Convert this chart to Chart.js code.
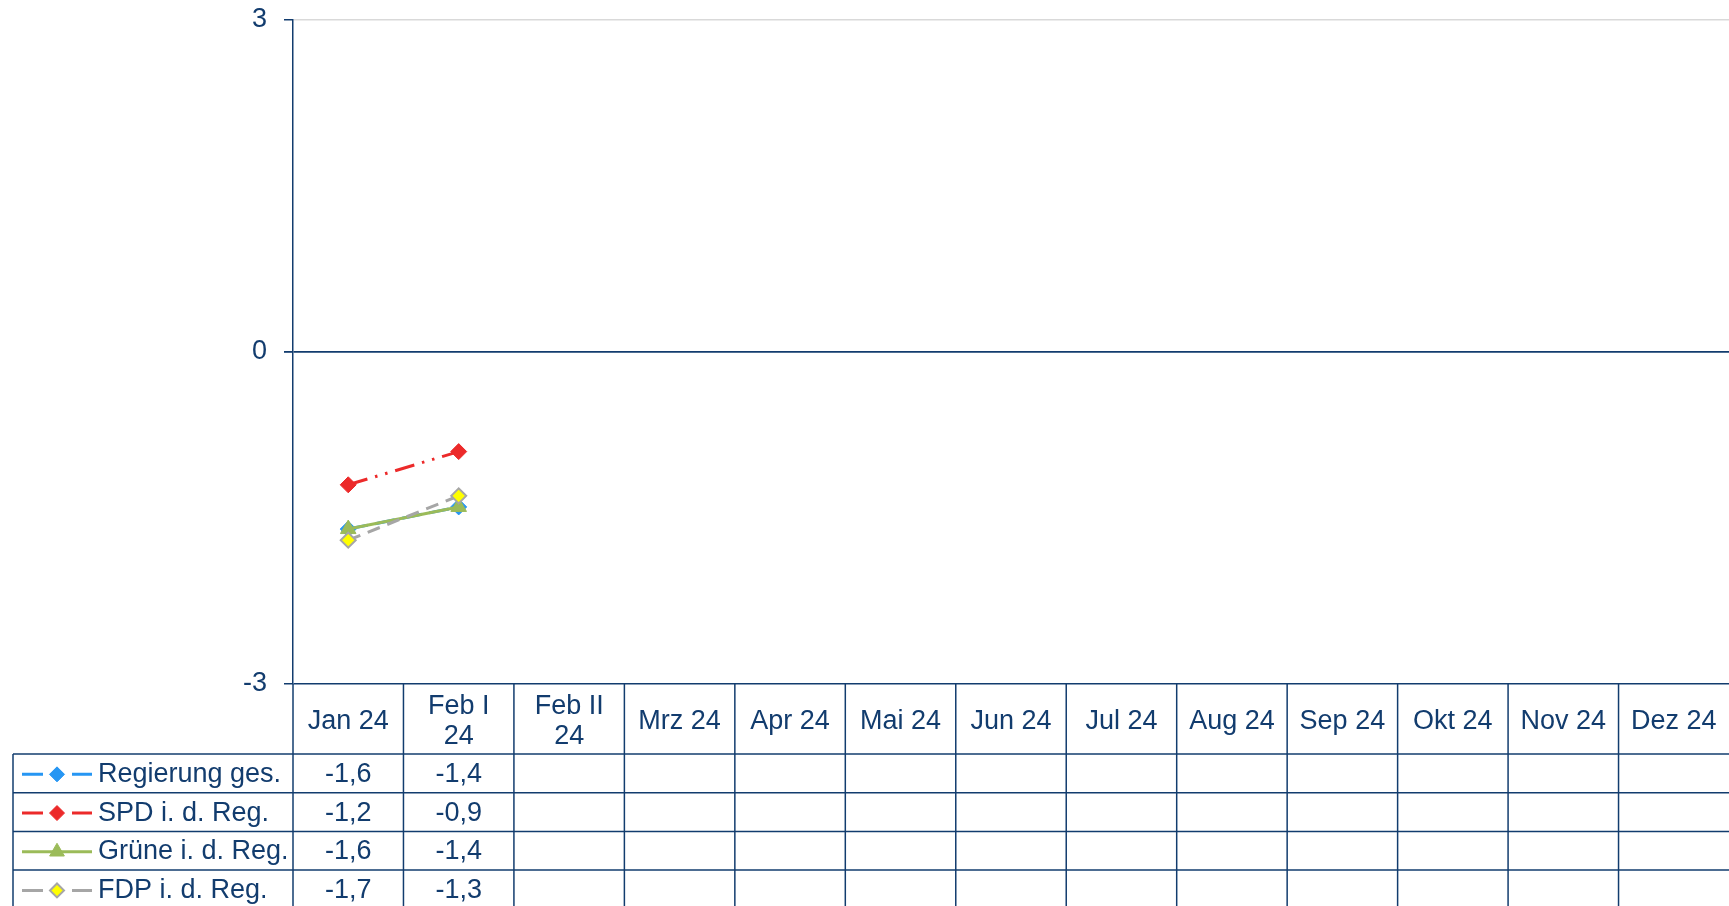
<!DOCTYPE html>
<html><head><meta charset="utf-8">
<script src="https://cdn.jsdelivr.net/npm/chart.js@4/dist/chart.umd.min.js"></script>
<style>html,body{margin:0;padding:0;background:#fff;overflow:hidden}canvas{display:block}</style>
</head><body>
<canvas id="c" width="1729" height="906"></canvas>
<script>
// ---- data ----
const categories = [['Jan 24'], ['Feb I', '24'], ['Feb II', '24'], ['Mrz 24'], ['Apr 24'], ['Mai 24'], ['Jun 24'], ['Jul 24'], ['Aug 24'], ['Sep 24'], ['Okt 24'], ['Nov 24'], ['Dez 24']];
const seriesNames = ['Regierung ges.', 'SPD i. d. Reg.', 'Grüne i. d. Reg.', 'FDP i. d. Reg.'];
const regierung = [-1.6, -1.4, null, null, null, null, null, null, null, null, null, null, null];
const spd = [-1.2, -0.9, null, null, null, null, null, null, null, null, null, null, null];
const gruene = [-1.6, -1.4, null, null, null, null, null, null, null, null, null, null, null];
const fdp = [-1.7, -1.3, null, null, null, null, null, null, null, null, null, null, null];
const yTicks = [-3, 0, 3];

// ---- styles ----
const INK = '#123C6E';
const FONT = '"Liberation Sans", Arial, sans-serif';
Chart.defaults.font.family = FONT;
Chart.defaults.color = INK;

const datasets = [
  { label: seriesNames[0], data: regierung, borderColor: '#2696F3', backgroundColor: '#2696F3', borderWidth: 3, borderDash: [20, 7.5], pointStyle: 'rectRot', pointRadius: 8, pointBorderWidth: 1, pointBorderColor: '#2696F3', order: 4, dashed: true },
  { label: seriesNames[1], data: spd, borderColor: '#EC2A2A', backgroundColor: '#EC2A2A', borderWidth: 3, borderDash: [20, 8, 2.5, 8, 2.5, 8], pointStyle: 'rectRot', pointRadius: 8, pointBorderWidth: 1, pointBorderColor: '#EC2A2A', order: 3, dashed: true },
  { label: seriesNames[2], data: gruene, borderColor: '#9BBB59', backgroundColor: '#9BBB59', borderWidth: 3, borderDash: [], pointStyle: 'triangle', pointRadius: 9, pointBorderWidth: 1, pointBorderColor: '#9BBB59', order: 2, dashed: false },
  { label: seriesNames[3], data: fdp, borderColor: '#A6A6A6', backgroundColor: '#FFFF00', borderWidth: 3, borderDash: [13, 8], pointStyle: 'rectRot', pointRadius: 7.5, pointBorderWidth: 2, pointBorderColor: '#A6A6A6', order: 1, dashed: true }
];

const fmt = v => (v === null || v === undefined) ? '' : v.toFixed(1).replace('.', ',');

const tablePlugin = {
  id: 'dataTable',
  afterDraw(chart) {
    const ctx = chart.ctx, ca = chart.chartArea, x = chart.scales.x;
    const H = chart.height, W = chart.width;
    const colW = x.getPixelForValue(1) - x.getPixelForValue(0);
    const headTop = ca.bottom, headBot = x.bottom;
    const rowH = 38.7;
    const legendLeft = 13;
    ctx.save();
    ctx.strokeStyle = INK;
    ctx.lineWidth = 1.5;
    // vertical column borders (right edge falls outside the picture)
    for (let i = 0; i < categories.length; i++) {
      const px = x.getPixelForValue(0) - colW / 2 + i * colW;
      ctx.beginPath(); ctx.moveTo(px, headTop); ctx.lineTo(px, H); ctx.stroke();
    }
    // legend column left border
    ctx.beginPath(); ctx.moveTo(legendLeft, headBot); ctx.lineTo(legendLeft, H); ctx.stroke();
    // horizontal row borders
    for (let r = 0; r <= datasets.length; r++) {
      const py = headBot + r * rowH;
      ctx.beginPath(); ctx.moveTo(legendLeft, py); ctx.lineTo(W, py); ctx.stroke();
    }
    // values & legend
    ctx.font = '27px ' + FONT;
    ctx.textBaseline = 'middle';
    chart.data.datasets.forEach((ds, r) => {
      const cy = headBot + r * rowH + rowH / 2 + 1;
      // legend sample line
      ctx.save();
      ctx.strokeStyle = ds.borderColor;
      ctx.lineWidth = ds.borderWidth;
      ctx.beginPath();
      if (ds.dashed) {
        ctx.moveTo(22, cy); ctx.lineTo(43, cy);
        ctx.moveTo(72, cy); ctx.lineTo(92, cy);
      } else {
        ctx.moveTo(22, cy); ctx.lineTo(92, cy);
      }
      ctx.stroke();
      ctx.fillStyle = ds.backgroundColor;
      ctx.strokeStyle = ds.pointBorderColor;
      ctx.lineWidth = ds.pointBorderWidth;
      Chart.helpers.drawPoint(ctx, { pointStyle: ds.pointStyle, radius: ds.pointRadius - 0.5, borderWidth: ds.pointBorderWidth, rotation: 0 }, 57, cy);
      ctx.restore();
      // legend label
      ctx.fillStyle = INK;
      ctx.textAlign = 'left';
      ctx.fillText(ds.label, 98, cy);
      // values
      ctx.textAlign = 'center';
      ds.data.forEach((v, i) => {
        const t = fmt(v);
        if (t) ctx.fillText(t, x.getPixelForValue(i), cy);
      });
    });
    ctx.restore();
  }
};

new Chart(document.getElementById('c'), {
  type: 'line',
  data: { labels: categories, datasets: datasets.map(d => ({ ...d, fill: false, tension: 0, spanGaps: false, pointHoverRadius: d.pointRadius })) },
  options: {
    responsive: false,
    animation: false,
    devicePixelRatio: 1,
    layout: { autoPadding: false, padding: { top: 20, bottom: 152, left: 0, right: 0 } },
    plugins: { legend: { display: false }, tooltip: { enabled: false } },
    scales: {
      x: {
        type: 'category',
        offset: true,
        grid: { display: false, drawTicks: false },
        border: { display: false },
        ticks: { autoSkip: false, maxRotation: 0, minRotation: 0, padding: 23, crossAlign: 'center', color: INK, font: { size: 27, lineHeight: 30 / 27 } },
        afterFit(s) { s.height = 70; s.paddingLeft = 0; s.paddingRight = 0; }
      },
      y: {
        min: -3, max: 3,
        afterBuildTicks(s) { s.ticks = yTicks.map(v => ({ value: v })); },
        grid: {
          color: c => (c.tick && c.tick.value === 3) ? '#D9D9D9' : INK,
          lineWidth: c => (c.tick && c.tick.value === 0) ? 1.8 : 1.5,
          tickColor: INK, tickLength: 9, drawTicks: true
        },
        border: { display: true, color: INK, width: 1.5 },
        ticks: { padding: 17, color: INK, font: { size: 27 }, callback: v => String(v).replace('.', ',') },
        afterFit(s) { s.width = 293; s.paddingTop = 0; s.paddingBottom = 0; }
      }
    }
  },
  plugins: [tablePlugin]
});
</script>
</body></html>
